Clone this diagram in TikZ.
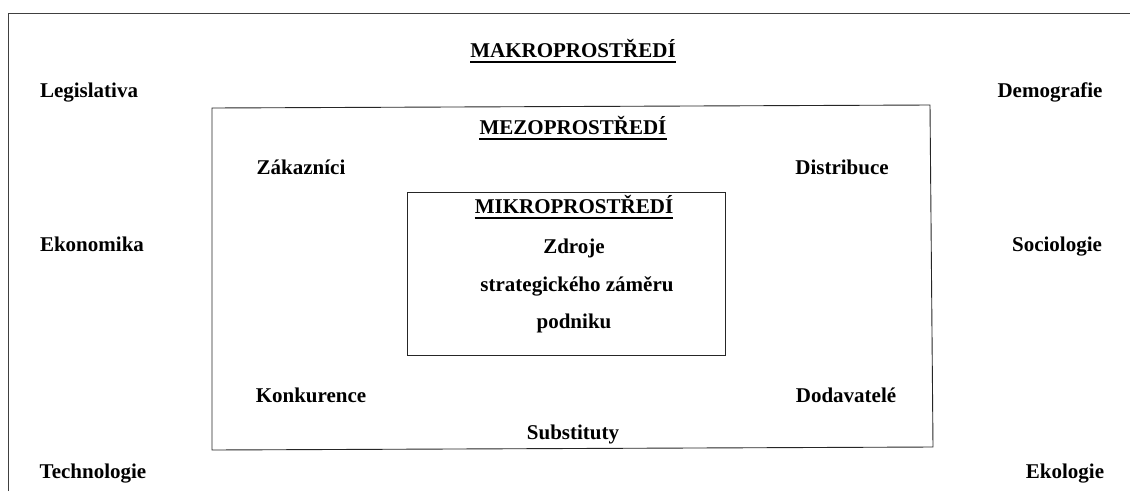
\documentclass[tikz,border=0pt]{standalone}
\usepackage{fontspec}
\setmainfont{Liberation Serif}
\begin{document}
\begin{tikzpicture}[x=1pt,y=-1pt,
  lbl/.style={font=\fontsize{21}{25}\selectfont\bfseries, inner sep=0pt, anchor=base},
  frame/.style={draw=black!75, line width=1pt},
  boxline/.style={draw=black!85, line width=0.9pt},
  uline/.style={line width=2.3pt}]
\useasboundingbox (0,0) rectangle (1130,491);
% outer (macro) frame, partly outside the page
\draw[frame] (8,491) -- (8,13) -- (1130,13);
% meso box
\draw[boxline] (212,108) -- (930,105) -- (933,447) -- (212,450) -- cycle;
% micro box
\draw[boxline] (407,192) rectangle (725,355);
% macro level
\node[lbl] (mak) at (573,57) {MAKROPROSTŘEDÍ};
\draw[uline] ([yshift=-5pt]mak.base west) -- ([yshift=-5pt]mak.base east);
\node[lbl] (leg) at (89,97) {Legislativa};
\node[lbl] (dem) at (1050,97) {Demografie};
\node[lbl] (eko) at (92,251) {Ekonomika};
\node[lbl] (soc) at (1057,251) {Sociologie};
\node[lbl] (tec) at (93,478) {Technologie};
\node[lbl] (ekl) at (1065,478) {Ekologie};
% meso level
\node[lbl] (mez) at (573,134) {MEZOPROSTŘEDÍ};
\draw[uline] ([yshift=-5pt]mez.base west) -- ([yshift=-5pt]mez.base east);
\node[lbl] (zak) at (301,174) {Zákazníci};
\node[lbl] (dis) at (842,174) {Distribuce};
\node[lbl] (kon) at (311,402) {Konkurence};
\node[lbl] (dod) at (846,402) {Dodavatelé};
\node[lbl] (sub) at (573,439) {Substituty};
% micro level
\node[lbl] (mik) at (574,213) {MIKROPROSTŘEDÍ};
\draw[uline] ([yshift=-5pt]mik.base west) -- ([yshift=-5pt]mik.base east);
\node[lbl] (zdr) at (574,253) {Zdroje};
\node[lbl] (str) at (577,291) {strategického záměru};
\node[lbl] (pod) at (574,328) {podniku};
\end{tikzpicture}
\end{document}
